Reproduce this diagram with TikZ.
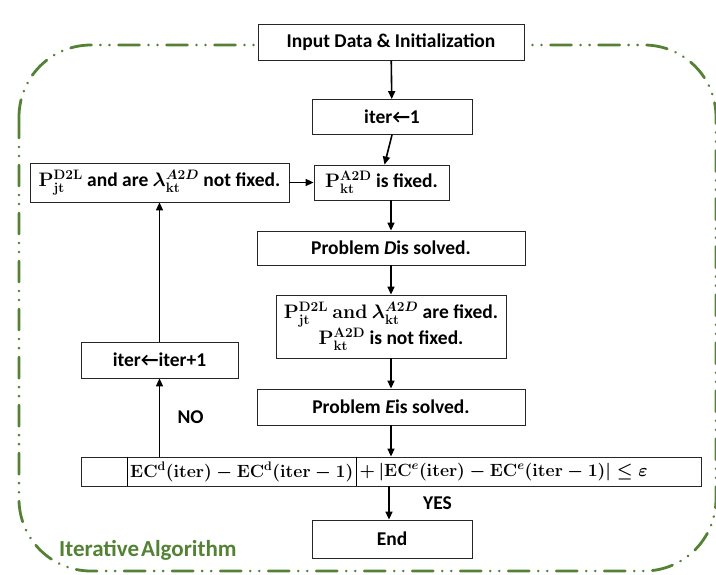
\RequirePackage{fix-cm}
\documentclass[tikz,border=0pt]{standalone}
\usepackage{amsmath,amssymb,bm}
\usepackage[no-math]{fontspec}
\setmainfont{Carlito}
\usetikzlibrary{arrows.meta}
\definecolor{algogreen}{RGB}{84,130,53}
\begin{document}
\begin{tikzpicture}[x=1pt,y=-1pt,
  box/.style={draw=black!85, line width=0.8pt, fill=white, inner sep=2pt,
    font=\bfseries\boldmath\fontsize{19.5}{21}\selectfont, align=center},
  arr/.style={-{Triangle[length=8pt,width=7pt]}, line width=1.6pt},
  lbl/.style={font=\bfseries\fontsize{19.5}{22}\selectfont},
  formula/.style={inner sep=0, font=\boldmath\fontsize{17.7}{20}\selectfont},
  frame/.style={draw=algogreen, line width=2.8pt, line cap=round,
    dash pattern=on 21pt off 9pt on 0.01pt off 9pt on 0.01pt off 9pt,
    rounded corners=72pt}]
\useasboundingbox (0,0) rectangle (716,574);

% dash-dot-dot frame around the loop
\draw[frame] (19,45) rectangle (716,571);
\node[anchor=west, text=algogreen, font=\bfseries\fontsize{23}{26}\selectfont, inner sep=0]
  (algname) at (59,550) {Iterative\hspace{2pt}Algorithm};

% process boxes
\node[box, minimum width=266, minimum height=36] (inp) at (391,42) {Input Data \& Initialization};
\node[box, minimum width=160, minimum height=35] (it1) at (392,117) {iter←1};
\node[box, minimum width=135, minimum height=35] (pkt) at (381.5,182.5)
  {$\mathbf{P}^{\mathbf{A2D}}_{\mathbf{kt}}$ is fixed.};
\node[box, minimum width=259, minimum height=39] (nfix) at (159.5,182.5)
  {$\mathbf{P}^{\mathbf{D2L}}_{\mathbf{jt}}$ and are $\lambda^{A2D}_{\mathbf{kt}}$ not fixed.};
\node[box, minimum width=268, minimum height=34] (pd) at (391,248) {Problem \textit{D}is solved.};
\node[box, minimum width=230, minimum height=63] (fix) at (391,326.5)
  {$\mathbf{P}^{\mathbf{D2L}}_{\mathbf{jt}}\ \mathbf{and}\ \lambda^{A2D}_{\mathbf{kt}}$ are fixed.\\
   $\mathbf{P}^{\mathbf{A2D}}_{\mathbf{kt}}$ is not fixed.};
\node[box, minimum width=268, minimum height=36] (pe) at (391,407) {Problem \textit{E}is solved.};
\node[box, minimum width=157, minimum height=36] (itp) at (159.5,360) {iter←iter+1};
\node[box, minimum width=160, minimum height=38] (fin) at (392,539) {End};

% convergence test
\node[box, minimum width=620, minimum height=29] (cond) at (391,471.5) {};
\node[formula, anchor=west] (absd) at (130,472)
  {$\mathbf{EC^{d}(iter)-EC^{d}(iter-1)}$};
\draw[line width=0.8pt] ([xshift=-3pt]absd.west |- cond.north) -- ([xshift=-3pt]absd.west |- cond.south);
\draw[line width=0.8pt] ([xshift=3pt]absd.east |- cond.north) -- ([xshift=3pt]absd.east |- cond.south);
\node[formula, anchor=west] (abse) at ([xshift=6pt]absd.east)
  {$+\,|\mathbf{EC}^{e}\mathbf{(iter)}-\mathbf{EC}^{e}\mathbf{(iter-1)}|\le\bm{\varepsilon}$};

% flow
\draw[arr] (inp) -- (it1);
\draw[arr] (it1.south) -- ([xshift=3pt]pkt.north);
\draw[arr] (nfix) -- (pkt);
\draw[arr] (pd.north |- pkt.south) -- (pd.north);
\draw[arr] (pd) -- (fix);
\draw[arr] (fix) -- (pe);
\draw[arr] (pe) -- (cond.north -| pe.south);
\draw[arr] (itp.south |- cond.north) -- node[lbl, right=14pt] (no) {NO} (itp.south);
\draw[arr] (itp) -- (nfix);
\draw[arr] ([xshift=-3pt]fin.north |- cond.south) -- node[lbl, right=30pt] (yes) {YES} ([xshift=-3pt]fin.north);
\end{tikzpicture}
\end{document}
